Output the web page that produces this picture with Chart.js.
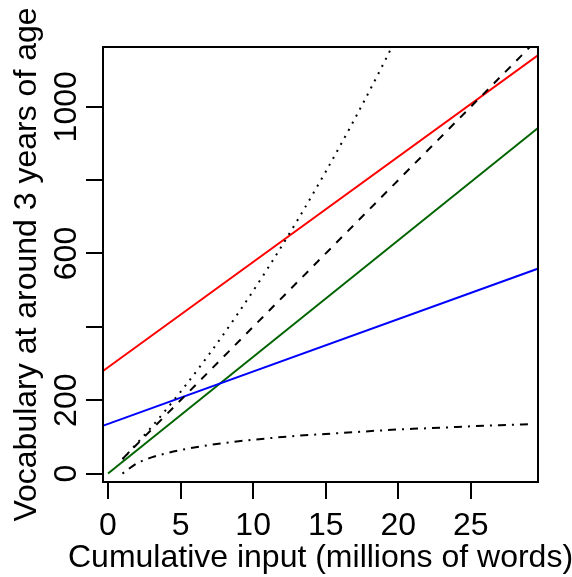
<!DOCTYPE html>
<html>
<head>
<meta charset="utf-8">
<script src="https://cdn.jsdelivr.net/npm/chart.js"></script>
<style>
  html, body { margin: 0; padding: 0; background: #fff; }
  #wrap { width: 572px; height: 577px; }
</style>
</head>
<body>
<div id="wrap"><canvas id="vocabChart" width="572" height="577"></canvas></div>
<script>
// values
const xTicks = [0, 5, 10, 15, 20, 25];
const yTicks = [0, 200, 400, 600, 800, 1000];
const yTickLabels = ['0', '200', '', '600', '', '1000'];

const lineX = [-1, 30];
const redY = [261, 1151];
const blueY = [121, 564];

const greenX = [0, 30];
const greenY = [0, 954];

const dashedX = [1, 30];
const dashedY = [40, 1200];

const dottedX = [1, 3, 5, 7, 9, 11, 13, 15, 17, 19, 21];
const dottedY = [39, 127, 223, 327, 439, 559, 687, 823, 967, 1119, 1279];

const dashDotX = [1, 2, 3, 4, 5, 7, 9, 11, 13, 15, 17, 19, 21, 23, 25, 27, 29.3];
const dashDotY = [0, 28, 44, 55, 64, 78, 88, 96, 103, 108, 113, 118, 122, 125, 129, 132, 135];

const xTitle = 'Cumulative input (millions of words)';
const yTitle = 'Vocabulary at around 3 years of age';

const FONT = '"Liberation Sans", Arial, sans-serif';
const FSIZE = 32;

function pts(xs, ys) {
    return xs.map((x, i) => ({ x: x, y: ys[i] }));
}

function series(xs, ys, color, dash) {
    return {
        data: pts(xs, ys),
        showLine: true,
        borderColor: color,
        borderWidth: 2,
        borderDash: dash,
        borderCapStyle: 'butt',
        pointRadius: 0,
        cubicInterpolationMode: 'monotone',
        fill: false
    };
}

// box round the plot and the two axis titles
const frame = {
    id: 'frame',
    afterDraw(chart) {
        const { ctx, chartArea: a } = chart;
        ctx.save();
        ctx.strokeStyle = '#000';
        ctx.lineWidth = 2;
        ctx.strokeRect(a.left, a.top, a.right - a.left, a.bottom - a.top);

        ctx.fillStyle = '#000';
        ctx.font = FSIZE + 'px ' + FONT;
        ctx.textAlign = 'center';
        ctx.textBaseline = 'alphabetic';
        ctx.fillText(xTitle, (a.left + a.right) / 2, 567);

        ctx.translate(36, (a.top + a.bottom) / 2);
        ctx.rotate(-Math.PI / 2);
        ctx.fillText(yTitle, 0, 0);
        ctx.restore();
    }
};

new Chart(document.getElementById('vocabChart'), {
    type: 'scatter',
    data: {
        datasets: [
            series(dottedX, dottedY, '#000', [2, 6]),
            series(dashedX, dashedY, '#000', [8, 8]),
            series(dashDotX, dashDotY, '#000', [2, 6, 8, 6]),
            series(lineX, redY, '#ff0000', []),
            series(lineX, blueY, '#0000ff', []),
            series(greenX, greenY, '#006400', [])
        ]
    },
    options: {
        responsive: false,
        animation: false,
        layout: { padding: { left: 0, top: 47, right: 34, bottom: 0 } },
        plugins: { legend: { display: false }, tooltip: { enabled: false } },
        scales: {
            x: {
                type: 'linear',
                min: -0.345,
                max: 29.63,
                afterBuildTicks: (s) => { s.ticks = xTicks.map(v => ({ value: v })); },
                afterFit: (s) => { s.height = 95; },
                border: { display: false },
                grid: { drawOnChartArea: false, drawTicks: true, tickLength: 17, color: '#000', lineWidth: 2 },
                ticks: {
                    color: '#000',
                    font: { family: FONT, size: FSIZE },
                    padding: 8,
                    maxRotation: 0,
                    autoSkip: false
                }
            },
            y: {
                type: 'linear',
                min: -23,
                max: 1163,
                afterBuildTicks: (s) => { s.ticks = yTicks.map(v => ({ value: v })); },
                afterFit: (s) => { s.width = 103; },
                border: { display: false },
                grid: { drawOnChartArea: false, drawTicks: true, tickLength: 17, color: '#000', lineWidth: 2 },
                ticks: {
                    color: '#000',
                    font: { family: FONT, size: FSIZE },
                    minRotation: 90,
                    maxRotation: 90,
                    crossAlign: 'center',
                    padding: -17,
                    autoSkip: false,
                    callback: (v, i) => yTickLabels[i]
                }
            }
        }
    },
    plugins: [frame]
});
</script>
</body>
</html>
